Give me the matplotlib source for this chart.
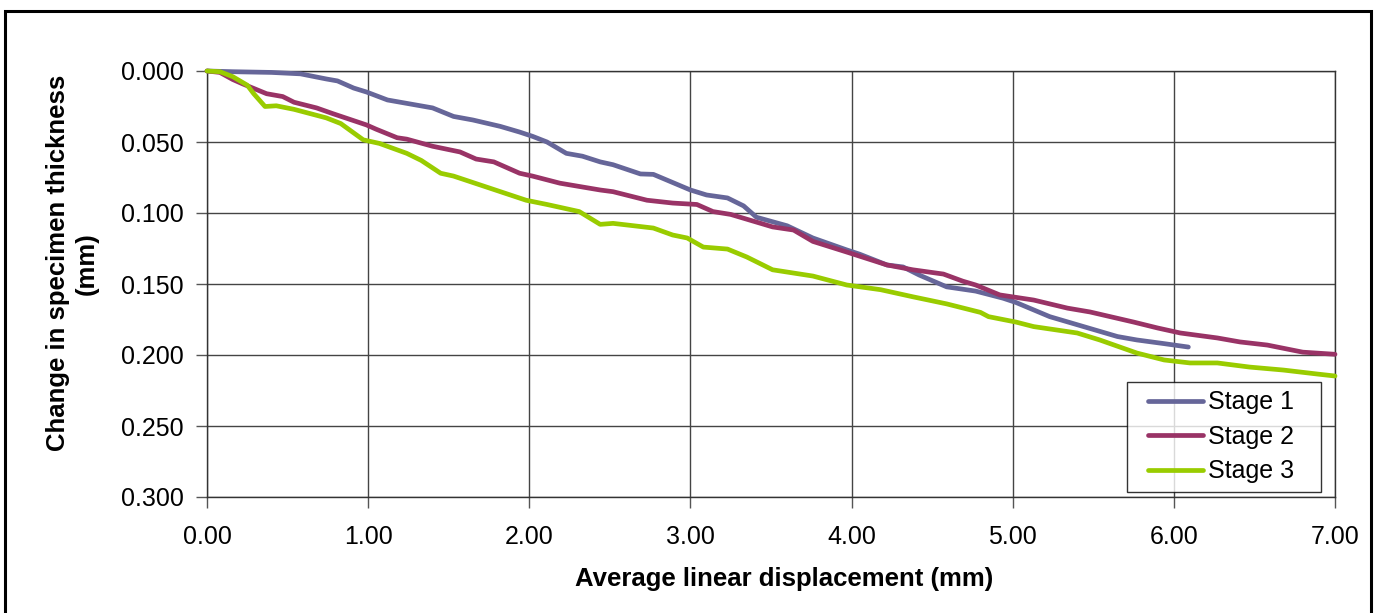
import matplotlib
matplotlib.use("Agg")
import matplotlib.pyplot as plt
from matplotlib.patches import Rectangle
from matplotlib.lines import Line2D
from matplotlib.legend_handler import HandlerLine2D
from matplotlib.ticker import FormatStrFormatter
import numpy as np

plt.rcParams['font.family'] = ['Liberation Sans', 'DejaVu Sans']

# values
stage1_x = [0.00, 0.16, 0.40, 0.58, 0.74, 0.81, 0.91, 0.99, 1.12, 1.25, 1.40, 1.53, 1.65,
            1.82, 1.94, 2.02, 2.11, 2.23, 2.33, 2.44, 2.52, 2.69, 2.77, 3.00, 3.10, 3.23,
            3.33, 3.41, 3.60, 3.76, 3.97, 4.05, 4.22, 4.32, 4.42, 4.59, 4.77, 4.94, 5.02,
            5.23, 5.44, 5.65, 5.77, 5.94, 6.09]
stage1_y = [0.000, 0.0005, 0.001, 0.002, 0.0056, 0.007, 0.012, 0.0148, 0.0204, 0.023, 0.026,
            0.032, 0.0345, 0.039, 0.043, 0.046, 0.050, 0.058, 0.060, 0.064, 0.066, 0.0725,
            0.0728, 0.0838, 0.0873, 0.0894, 0.095, 0.103, 0.109, 0.1176, 0.126, 0.129,
            0.1366, 0.138, 0.1437, 0.152, 0.155, 0.160, 0.163, 0.173, 0.180, 0.187, 0.1894,
            0.192, 0.1944]

stage2_x = [0.00, 0.08, 0.16, 0.22, 0.37, 0.47, 0.54, 0.68, 0.78, 0.99, 1.05, 1.18, 1.24,
            1.40, 1.57, 1.67, 1.78, 1.94, 2.02, 2.19, 2.32, 2.44, 2.52, 2.73, 2.89, 3.04,
            3.14, 3.25, 3.51, 3.64, 3.76, 3.97, 4.22, 4.38, 4.57, 4.69, 4.77, 4.92, 5.13,
            5.34, 5.48, 5.75, 5.90, 6.04, 6.27, 6.41, 6.58, 6.80, 7.00]
stage2_y = [0.000, 0.001, 0.006, 0.009, 0.016, 0.018, 0.022, 0.026, 0.030, 0.038, 0.041,
            0.047, 0.048, 0.053, 0.057, 0.062, 0.064, 0.072, 0.074, 0.079, 0.0815, 0.0838,
            0.085, 0.091, 0.093, 0.094, 0.099, 0.101, 0.1098, 0.112, 0.120, 0.1275, 0.1366,
            0.140, 0.143, 0.148, 0.1507, 0.1577, 0.1613, 0.167, 0.1697, 0.1768, 0.181,
            0.1845, 0.188, 0.1908, 0.193, 0.198, 0.1995]

stage3_x = [0.00, 0.08, 0.16, 0.25, 0.29, 0.36, 0.43, 0.54, 0.74, 0.83, 0.97, 1.07, 1.24,
            1.33, 1.45, 1.53, 1.98, 2.11, 2.31, 2.44, 2.52, 2.77, 2.89, 2.98, 3.08, 3.23,
            3.35, 3.51, 3.76, 3.97, 4.18, 4.38, 4.59, 4.80, 4.85, 5.02, 5.13, 5.40, 5.54,
            5.77, 5.94, 6.10, 6.27, 6.47, 6.68, 6.89, 7.00]
stage3_y = [0.000, 0.0005, 0.004, 0.010, 0.016, 0.025, 0.0245, 0.027, 0.033, 0.037, 0.0485,
            0.051, 0.058, 0.063, 0.072, 0.074, 0.091, 0.094, 0.099, 0.108, 0.1073, 0.1106,
            0.1155, 0.1176, 0.124, 0.1254, 0.131, 0.140, 0.1444, 0.1507, 0.154, 0.159,
            0.164, 0.170, 0.173, 0.1768, 0.180, 0.1845, 0.1894, 0.1986, 0.2035, 0.2056,
            0.2056, 0.2085, 0.2106, 0.2134, 0.2148]

x_ticks = [0, 1, 2, 3, 4, 5, 6, 7]
y_ticks = [0.0, 0.05, 0.10, 0.15, 0.20, 0.25, 0.30]

fig = plt.figure(figsize=(13.75, 6.13), dpi=100)
ax = fig.add_axes([207/1375, 1 - 497/613, 1128/1375, 426/613])

# outer chart border like the excel chart area
fig.patches.append(Rectangle((5/1375, -0.05), 1366/1375, 1 - 11/613 + 0.05,
                             transform=fig.transFigure, fill=False,
                             edgecolor='black', linewidth=2.2))

kw = dict(linewidth=3.4, solid_joinstyle='round', solid_capstyle='round', clip_on=False)
ax.plot(stage1_x, stage1_y, color='#666699', label='Stage 1', zorder=3, **kw)
ax.plot(stage2_x, stage2_y, color='#993366', label='Stage 2', zorder=3, **kw)
ax.plot(stage3_x, stage3_y, color='#99cc00', label='Stage 3', zorder=3, **kw)

ax.set_xlim(0, 7)
ax.set_ylim(0.3, 0.0)
ax.set_xticks(x_ticks)
ax.set_yticks(y_ticks)
ax.xaxis.set_major_formatter(FormatStrFormatter('%.2f'))
ax.yaxis.set_major_formatter(FormatStrFormatter('%.3f'))
ax.tick_params(axis='both', direction='out', length=8, width=1, color='#555555',
               labelsize=18, pad=9)
ax.tick_params(axis='x', pad=12)
ax.grid(True, color='#444444', linewidth=1)
for s in ax.spines.values():
    s.set_color('#333333')
    s.set_linewidth(1)

ax.set_xlabel('Average linear displacement (mm)', fontsize=18.5, fontweight='bold',
              labelpad=13)
ax.set_ylabel('Change in specimen thickness\n(mm)', fontsize=18.5, fontweight='bold',
              labelpad=16, linespacing=1.2)
# excel didn't centre the titles exactly on the plot area
ax.xaxis.label.set_x(0.5115)
ax.yaxis.label.set_y(0.549)

leg = ax.legend(loc='lower left', bbox_to_anchor=(920/1128, 5/426, 194/1128, 110/426),
                mode='expand', fontsize=18, frameon=True, fancybox=False,
                handlelength=2.7, handletextpad=0.2, borderpad=0.35,
                labelspacing=0.42, borderaxespad=0,
                handler_map={Line2D: HandlerLine2D(xpad=0.48)})
leg.get_frame().set_edgecolor('black')
leg.get_frame().set_linewidth(1)

fig.savefig('out.png', dpi=100)
